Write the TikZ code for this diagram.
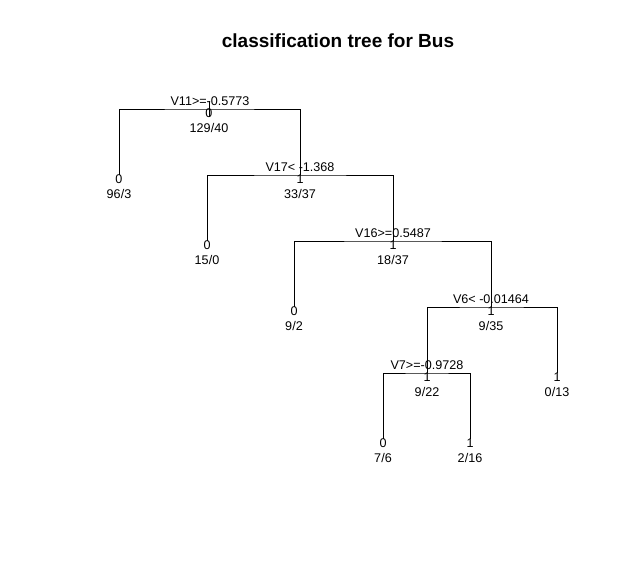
\documentclass[tikz,border=0pt]{standalone}
\usepackage{fontspec}
\setmainfont{Liberation Sans}
\begin{document}
\begin{tikzpicture}[x=1pt,y=-1pt,
  lbl/.style={font=\fontsize{12.6}{15}\selectfont, inner sep=0pt, anchor=base, text=black},
  ttl/.style={font=\fontsize{19}{22}\selectfont\bfseries, inner sep=0pt, anchor=base, text=black},
  edge/.style={line width=1pt, black}]
\useasboundingbox (0,0) rectangle (639,568);
% node points
\coordinate (r) at (209,109);
\coordinate (l1) at (119,175);
\coordinate (s2) at (300,175);
\coordinate (l2) at (207,241);
\coordinate (s3) at (393,241);
\coordinate (l3) at (294,307);
\coordinate (s4) at (491,307);
\coordinate (s5) at (427,373);
\coordinate (l5) at (557,373);
\coordinate (l6a) at (383,439);
\coordinate (l6b) at (470,439);
\coordinate (rt) at (209,101);
\coordinate (rb) at (209,117);
% branches
\draw[edge] (rt) -- (rb);
\draw[edge] (l1) |- (r) -| (s2);
\draw[edge] (l2) |- (s2) -| (s3);
\draw[edge] (l3) |- (s3) -| (s4);
\draw[edge] (s5) |- (s4) -| (l5);
\draw[edge] (l6a) |- (s5) -| (l6b);
% title
\node[ttl] (title) at (338,47) {classification tree for Bus};
% split labels
\node[lbl] (sp1) at (210,105.5) {V11>=-0.5773};
\node[lbl] (sp2) at (300,171.5) {V17< -1.368};
\node[lbl] (sp3) at (393,237.5) {V16>=0.5487};
\node[lbl] (sp4) at (491,303.5) {V6< -0.01464};
\node[lbl] (sp5) at (427,369.5) {V7>=-0.9728};
% class labels
\node[lbl] (c1) at (209,117.5) {0};
\node[lbl] (c2) at (119,183.5) {0};
\node[lbl] (c3) at (300,183.5) {1};
\node[lbl] (c4) at (207,249.5) {0};
\node[lbl] (c5) at (393,249.5) {1};
\node[lbl] (c6) at (294,315.5) {0};
\node[lbl] (c7) at (491,315.5) {1};
\node[lbl] (c8) at (427,381.5) {1};
\node[lbl] (c9) at (557,381.5) {1};
\node[lbl] (c10) at (383,447.5) {0};
\node[lbl] (c11) at (470,447.5) {1};
% counts
\node[lbl] (n1) at (209,132.5) {129/40};
\node[lbl] (n2) at (119,198.5) {96/3};
\node[lbl] (n3) at (300,198.5) {33/37};
\node[lbl] (n4) at (207,264.5) {15/0};
\node[lbl] (n5) at (393,264.5) {18/37};
\node[lbl] (n6) at (294,330.5) {9/2};
\node[lbl] (n7) at (491,330.5) {9/35};
\node[lbl] (n8) at (427,396.5) {9/22};
\node[lbl] (n9) at (557,396.5) {0/13};
\node[lbl] (n10) at (383,462.5) {7/6};
\node[lbl] (n11) at (470,462.5) {2/16};
\end{tikzpicture}
\end{document}
